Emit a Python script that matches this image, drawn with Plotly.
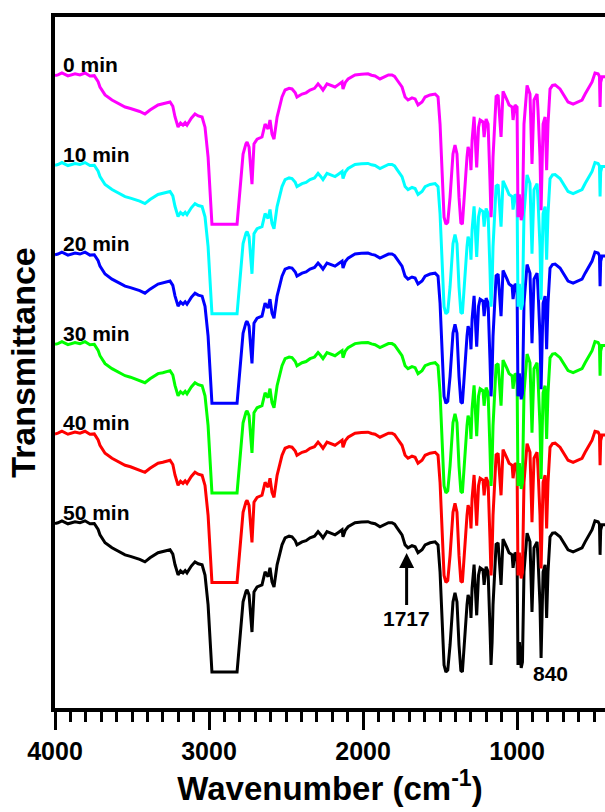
import plotly.graph_objects as go

# Base FTIR spectrum
wavenumber = [4000, 3981, 3955, 3916, 3870, 3838, 3805, 3773, 3745, 3720, 3708, 3675, 3630, 3590, 3545, 3510,
              3481, 3450, 3416, 3383, 3331, 3300, 3253, 3235, 3221, 3201, 3185, 3169, 3155, 3143, 3115, 3091,
              3070, 3045, 3026, 3006, 2994, 2981, 2818, 2799, 2779, 2760, 2753, 2740, 2721, 2708, 2688, 2656,
              2636, 2617, 2604, 2591, 2578, 2558, 2526, 2506, 2480, 2461, 2440, 2429, 2396, 2370, 2344, 2315,
              2292, 2275, 2260, 2234, 2210, 2182, 2160, 2136, 2130, 2115, 2097, 2070, 2052, 2010, 1968, 1945,
              1922, 1890, 1857, 1835, 1812, 1795, 1779, 1747, 1727, 1708, 1682, 1662, 1643, 1617, 1597, 1565,
              1532, 1513, 1500, 1487, 1474, 1462, 1450, 1435, 1416, 1403, 1390, 1377, 1365, 1355, 1344, 1325,
              1318, 1305, 1299, 1292, 1279, 1262, 1250, 1240, 1221, 1214, 1201, 1188, 1176, 1169, 1162, 1156,
              1136, 1123, 1104, 1091, 1065, 1052, 1032, 1026, 1013, 1000, 994, 985, 973, 965, 955, 935,
              916, 903, 890, 870, 864, 851, 844, 838, 831, 818, 808, 799, 786, 770, 753, 721,
              688, 669, 636, 604, 578, 558, 539, 513, 494, 474, 465, 461, 457, 448, 429]
transmittance = [99.5, 100, 101.3, 99.3, 100.7, 100, 101.3, 99.3, 99.5, 95.5, 91.9, 86.6, 83.2, 81.0, 78.5, 77.5,
                 76.5, 75.5, 73.8, 76.5, 79.9, 80.5, 81.9, 79.0, 72.0, 65.1, 67.8, 66.4, 68.0, 66.4, 71.0, 73.8,
                 72.5, 71.8, 65.0, 45.0, 22.8, 0.0, 0.0, 22.8, 47.0, 54.0, 55.0, 51.7, 26.8, 53.7, 57.0, 58.4,
                 67.1, 63.8, 69.8, 60.4, 57.0, 71.8, 85.2, 89.9, 91.0, 90.6, 88.0, 85.2, 87.2, 88.0, 89.9, 91.0,
                 94.0, 92.0, 89.9, 94.0, 93.0, 91.9, 93.5, 95.3, 90.6, 95.0, 97.3, 99.0, 100, 100.5, 100.7, 99.8,
                 99.3, 97.3, 98.7, 100, 100, 99.0, 96.6, 91.9, 85.2, 83.2, 84.6, 83.9, 79.9, 81.9, 85.2, 86.6,
                 87.2, 85.2, 67.1, 33.6, 4.7, 0.0, 1.3, 18.1, 47.0, 53.0, 47.0, 18.1, 1.0, 0.0, 18.1, 45.0,
                 51.7, 47.0, 36.2, 56.4, 72.0, 38.0, 65.0, 69.8, 68.5, 58.4, 70.5, 67.1, 30.0, 4.7, 20.0, 45.0,
                 85.5, 86.5, 58.4, 89.0, 83.2, 79.9, 78.5, 69.8, 79.9, 78.5, 4.7, 20.0, 2.7, 6.7, 67.1, 93.0,
                 87.2, 40.3, 83.2, 87.2, 76.5, 45.0, 9.4, 40.0, 67.1, 71.8, 36.2, 67.1, 90.5, 93.0, 93.3, 90.6,
                 85.2, 81.9, 80.5, 81.9, 83.2, 87.2, 90.6, 95.3, 101.3, 100.7, 99.0, 78.5, 95.0, 98.7, 98.7]
assert len(wavenumber) == len(transmittance)

series_names = ["0 min", "10 min", "20 min", "30 min", "40 min", "50 min"]
series_offsets = [300, 240, 180, 120, 60, 0]
series_colors = ["#FF00FF", "#00FFFF", "#0000FF", "#00FF00", "#FF0000", "#000000"]

FONT = "Liberation Sans, Arial, sans-serif"

fig = go.Figure()
# draw bottom trace first so upper traces sit on top
for name, off, col in reversed(list(zip(series_names, series_offsets, series_colors))):
    fig.add_trace(go.Scatter(x=wavenumber, y=[t + off for t in transmittance], mode="lines",
                             line=dict(color=col, width=3), name=name, showlegend=False,
                             hoverinfo="skip"))

annotations = []
for name, off in zip(series_names, series_offsets):
    annotations.append(dict(x=3964, y=off + 107, text=name, showarrow=False, xanchor="left",
                            yanchor="middle", font=dict(family=FONT, size=21, color="black", weight="bold")))

annotations.append(dict(x=1717, y=79.7, text="1717", showarrow=True, ax=0, ay=65, axref="pixel",
                        arrowhead=2, arrowsize=1, arrowwidth=3, arrowcolor="black", standoff=0,
                        font=dict(family=FONT, size=21, color="black", weight="bold")))
annotations.append(dict(x=785, y=-1, text="840", showarrow=False, xanchor="center", yanchor="middle",
                        font=dict(family=FONT, size=21, color="black", weight="bold")))

fig.update_layout(
    width=605, height=812,
    margin=dict(l=55, r=0, t=17, b=104),
    paper_bgcolor="white", plot_bgcolor="white",
    font=dict(family=FONT, color="black"),
    annotations=annotations,
    xaxis=dict(range=[4000, 429], showgrid=False, zeroline=False,
               showline=True, linewidth=4, linecolor="black", mirror=True,
               tickmode="array", tickvals=[4000, 3000, 2000, 1000],
               ticktext=["4000", "3000", "2000", "1000"],
               ticks="outside", ticklen=18, tickwidth=3, tickcolor="black",
               minor=dict(dtick=100, tick0=0, ticks="outside", ticklen=10, tickwidth=3, tickcolor="black"),
               tickfont=dict(family=FONT, size=25, color="black", weight="bold"),
               title=dict(text="Wavenumber (cm<sup>-1</sup>)",
                          font=dict(family=FONT, size=33, color="black", weight="bold"), standoff=6)),
    yaxis=dict(range=[-24.1, 438.8], showgrid=False, zeroline=False,
               showline=True, linewidth=4, linecolor="black", mirror=False,
               showticklabels=False, ticks="",
               title=dict(text="Transmittance",
                          font=dict(family=FONT, size=34, color="black", weight="bold"), standoff=6)),
)

fig.write_html("out.html")
